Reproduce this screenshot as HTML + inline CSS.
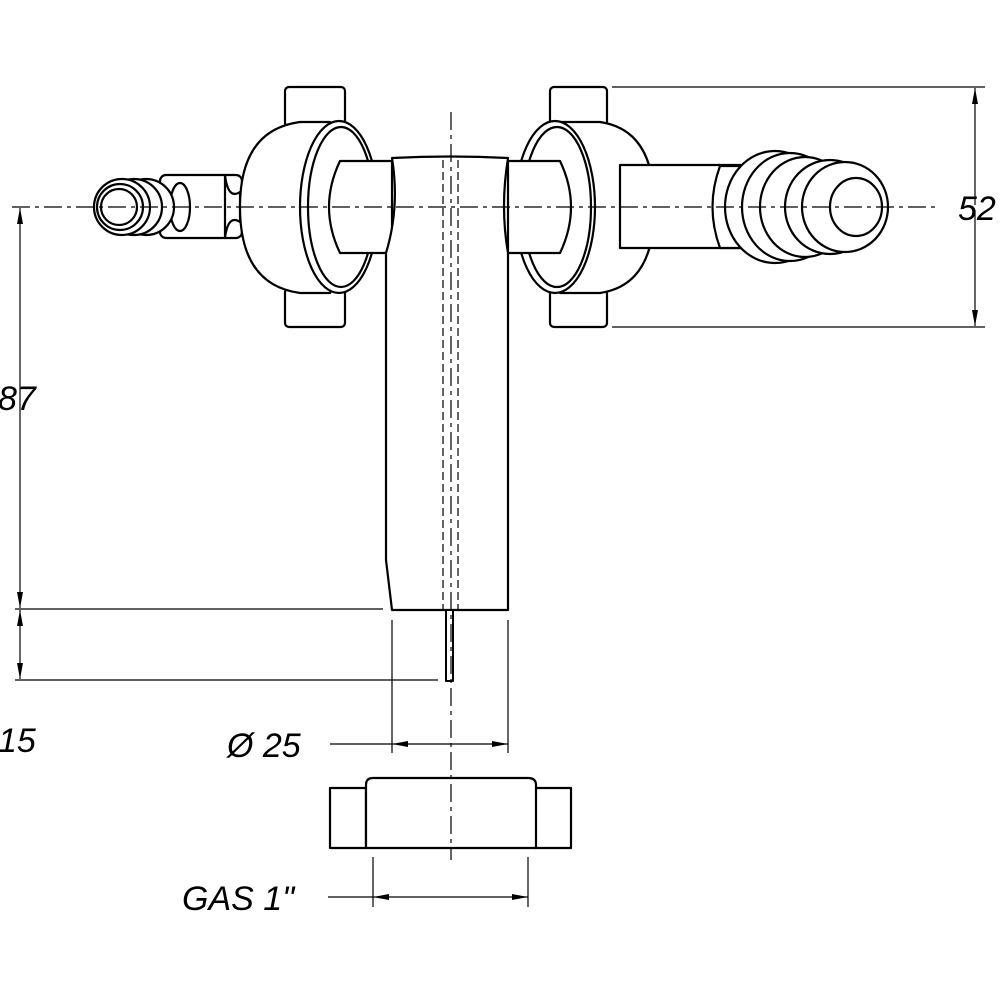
<!DOCTYPE html>
<html><head><style>html,body{margin:0;padding:0;background:#fff}svg{display:block}</style></head>
<body>
<svg width="1000" height="1000" viewBox="0 0 1000 1000" xmlns="http://www.w3.org/2000/svg">
<defs>
<marker id="a" viewBox="0 0 16 6" refX="16" refY="3" markerWidth="16" markerHeight="6" orient="auto-start-reverse" markerUnits="userSpaceOnUse"><path d="M0,0L16,3L0,6z" fill="#000"/></marker>
</defs>
<g fill="#fff" stroke="#000" stroke-width="2.2" stroke-linejoin="round">
<!-- left hose -->
<rect x="160" y="175" width="82" height="63" rx="6"/>
<path d="M225,175 Q228,200 240,192 L240,222 Q228,214 225,238z"/>
<ellipse cx="180" cy="207" rx="10" ry="24"/>
<circle cx="146" cy="207" r="28"/>
<circle cx="134" cy="207" r="28"/>
<circle cx="122" cy="207" r="28"/>
<circle cx="120" cy="207" r="23"/>
<circle cx="119" cy="207" r="18"/>
<!-- left nut tabs -->
<rect x="285" y="87" width="60" height="40" rx="4"/>
<rect x="285" y="288" width="60" height="39" rx="4"/>
<path d="M330,122 L300,122 Q240,130 240,207 Q240,285 300,293 L330,293 Q370,207 330,122z"/>
<ellipse cx="339" cy="207" rx="39" ry="86"/>
<ellipse cx="341" cy="207" rx="33" ry="80"/>
<!-- left pipe -->
<path d="M340,161 L392,161 L392,253 L340,253 Q318,207 340,161z"/>
<!-- right nut -->
<rect x="550" y="87" width="57" height="40" rx="4"/>
<rect x="550" y="288" width="57" height="39" rx="4"/>
<path d="M560,122 L600,122 Q655,130 654,207 Q655,285 600,293 L560,293z"/>
<ellipse cx="555" cy="207" rx="40" ry="86"/>
<ellipse cx="557" cy="207" rx="34" ry="80"/>
<!-- right pipe -->
<rect x="620" y="165" width="125" height="83"/>
<path d="M508,161 L560,161 Q582,207 560,253 L508,253z"/>
<!-- right hose -->
<path d="M720,166 Q705,207 720,248 L745,248 L745,166z"/>
<ellipse cx="775" cy="207" rx="50" ry="56"/>
<ellipse cx="790" cy="207" rx="48" ry="54"/>
<ellipse cx="805" cy="207" rx="45" ry="50"/>
<ellipse cx="830" cy="207" rx="45" ry="47"/>
<ellipse cx="845" cy="207" rx="43" ry="45"/>
<ellipse cx="856" cy="207" rx="26" ry="29"/>
<!-- main tube -->
<path d="M392,158 Q450,155 508,158 Q500,207 508,253 L508,610 L392,610 L386,560 L386,253 Q400,207 392,158z"/>
<rect x="446" y="610" width="7" height="71" stroke-width="2"/>
<!-- bottom nut -->
<rect x="330" y="788" width="36" height="60"/>
<rect x="535" y="788" width="36" height="60"/>
<path d="M366,848 L366,785 Q366,778 373,778 L528,778 Q536,778 536,785 L536,848z"/>
</g>
<g stroke="#000" stroke-width="1.2" fill="none">
<path d="M12,207 L935,207" stroke-dasharray="18,5,4,5"/>
<path d="M451,112 L451,860" stroke-dasharray="18,5,4,5"/>
<path d="M443,160 L443,610 M458,160 L458,610" stroke-dasharray="8,4"/>
<path d="M612,87 L985,87 M612,327 L985,327"/>
<line x1="975" y1="205" x2="975" y2="88" marker-end="url(#a)"/>
<line x1="975" y1="210" x2="975" y2="326" marker-end="url(#a)"/>
<path d="M15,609 L383,609 M15,680 L438,680"/>
<line x1="20" y1="400" x2="20" y2="208" marker-end="url(#a)"/>
<line x1="20" y1="400" x2="20" y2="608" marker-end="url(#a)"/>
<line x1="20" y1="640" x2="20" y2="610" marker-end="url(#a)"/>
<line x1="20" y1="640" x2="20" y2="679" marker-end="url(#a)"/>
<path d="M392,620 L392,753 M508,620 L508,753 M330,744 L392,744"/>
<line x1="450" y1="744" x2="392" y2="744" marker-end="url(#a)"/>
<line x1="450" y1="744" x2="508" y2="744" marker-end="url(#a)"/>
<path d="M373,857 L373,907 M528,857 L528,907 M328,897 L373,897"/>
<line x1="450" y1="897" x2="373" y2="897" marker-end="url(#a)"/>
<line x1="450" y1="897" x2="528" y2="897" marker-end="url(#a)"/>
</g>
<g font-family="Liberation Sans, sans-serif" font-style="italic" font-size="34" fill="#000">
<text x="958" y="220">52</text>
<text x="-2" y="410">87</text>
<text x="-2" y="752">15</text>
<text x="227" y="757">Ø 25</text>
<text x="182" y="910">GAS 1"</text>
</g>
</svg>
</body></html>
